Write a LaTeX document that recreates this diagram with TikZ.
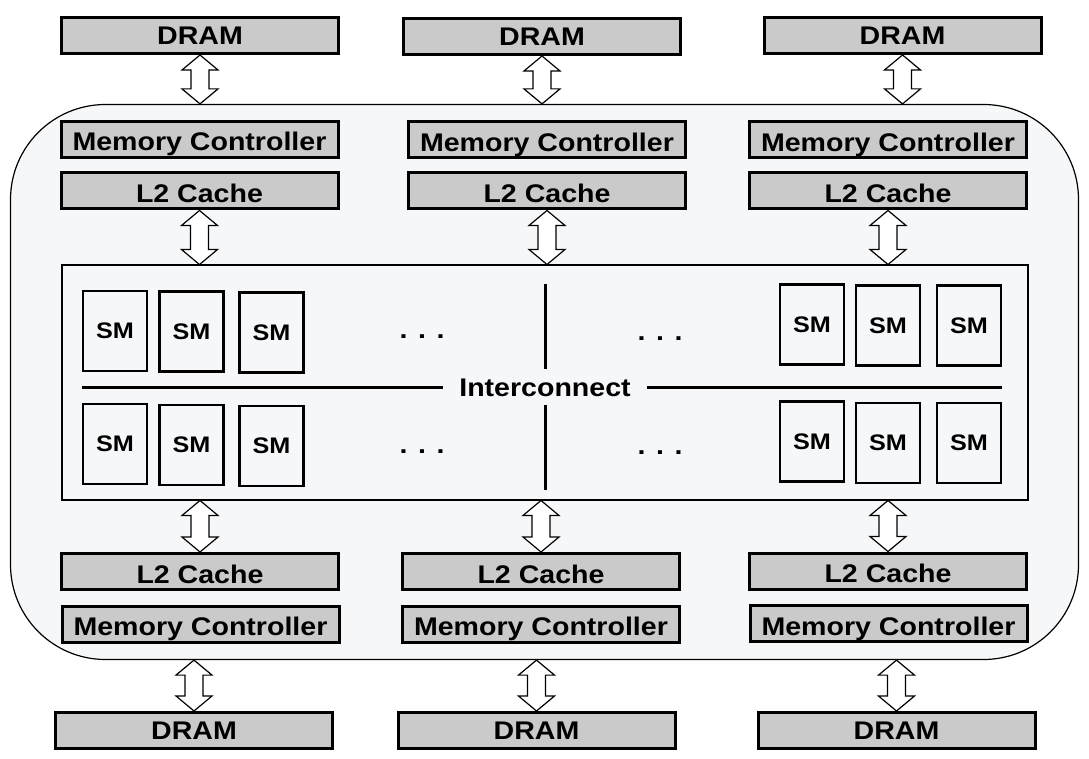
\documentclass[tikz,border=0pt]{standalone}
\usepackage{fontspec}
\usetikzlibrary{calc}
\newfontfamily\boxfont{Liberation Sans}[FakeStretch=1.12]
\definecolor{chipbg}{RGB}{246,247,249}
\definecolor{boxgray}{RGB}{202,202,202}
\tikzset{
    dram/.style={rectangle,draw=black,line width=3pt,fill=boxgray,minimum width=277pt,minimum height=36pt,inner sep=0,
        text height=18pt,text depth=0pt,font=\boxfont\bfseries\fontsize{25.5}{30}\selectfont},
    ctrl/.style={dram,text height=23pt},
    sm/.style={rectangle,draw=black,line width=2.5pt,fill=chipbg,minimum width=64pt,minimum height=80pt,inner sep=0,
        font=\boxfont\bfseries\fontsize{22.5}{26}\selectfont},
    chip/.style={rectangle,draw=black,line width=1.2pt,fill=chipbg,rounded corners=95pt,minimum width=1068pt,minimum height=555pt},
    noc/.style={rectangle,draw=black,line width=2pt,fill=chipbg,minimum width=966pt,minimum height=234pt},
    label/.style={inner xsep=16pt,inner ysep=9pt,text height=18pt,text depth=0pt,font=\boxfont\bfseries\fontsize{25.5}{30}\selectfont},
    dots/.style={anchor=base,inner sep=0,font=\boxfont\bfseries\fontsize{25.5}{30}\selectfont},
    wire/.style={line width=3pt},
    link/.style={draw=black,line width=1.2pt,fill=white,
        to path={let \p1=(\tikztostart), \p2=(\tikztotarget) in
            (\x1,\y1) -- (\x1+18pt,\y1-15pt) -- (\x1+9pt,\y1-15pt) -- (\x1+9pt,\y2+15pt) -- (\x1+18pt,\y2+15pt)
            -- (\x1,\y2) -- (\x1-18pt,\y2+15pt) -- (\x1-9pt,\y2+15pt) -- (\x1-9pt,\y1-15pt) -- (\x1-18pt,\y1-15pt) -- cycle}}
}
\begin{document}
\begin{tikzpicture}[x=1pt,y=-1pt]
    \useasboundingbox (0,0) rectangle (1089,759);
    \node[chip] (chip) at (544.5,382) {};
    \node[noc] (noc) at (544.5,382.5) {};
    % top partitions
    \node[dram] (dt1) at (200,35.5) {DRAM};
    \node[dram] (dt2) at (542,36.5) {DRAM};
    \node[dram] (dt3) at (902.5,35.5) {DRAM};
    \node[ctrl] (mt1) at (199.5,139.5) {Memory Controller};
    \node[ctrl] (mt2) at (547,140) {Memory Controller};
    \node[ctrl] (mt3) at (888,140) {Memory Controller};
    \node[ctrl] (lt1) at (199.5,191) {L2 Cache};
    \node[ctrl] (lt2) at (547,191) {L2 Cache};
    \node[ctrl] (lt3) at (888,191) {L2 Cache};
    % bottom partitions
    \node[ctrl] (lb1) at (200,571.5) {L2 Cache};
    \node[ctrl] (lb2) at (541,571.5) {L2 Cache};
    \node[ctrl] (lb3) at (888,571) {L2 Cache};
    \node[ctrl] (mb1) at (200.5,624) {Memory Controller};
    \node[ctrl] (mb2) at (541,624) {Memory Controller};
    \node[ctrl] (mb3) at (888.5,623.5) {Memory Controller};
    \node[dram] (db1) at (194,730.5) {DRAM};
    \node[dram] (db2) at (536.5,730.5) {DRAM};
    \node[dram] (db3) at (896.5,730.5) {DRAM};
    % SMs
    \foreach \x/\y [count=\i] in {115/331,191.5/331.5,271.5/332.5,812/324.5,888/325.5,969/325.5,
        115/444,191.5/445,271.5/446,812/441.5,888/443,969/443}
        \node[sm] (sm\i) at (\x,\y) {SM};
    \node[dots] (d1) at (422,338) {. . .};
    \node[dots] (d2) at (660,340) {. . .};
    \node[dots] (d3) at (422,453) {. . .};
    \node[dots] (d4) at (660,454) {. . .};
    % interconnect
    \node[label] (icn) at (545,387) {Interconnect};
    \coordinate (hl) at (82,387);
    \coordinate (hr) at (1002,387);
    \coordinate (vt) at (545,284);
    \coordinate (vb) at (545,490);
    \draw[wire] (hl) -- (icn.west) (icn.east) -- (hr);
    \draw[wire] (vt) -- (icn.north) (icn.south) -- (vb);
    % links
    \draw[link] (dt1.south) to (dt1.south |- chip.north);
    \draw[link] (dt2.south) to (dt2.south |- chip.north);
    \draw[link] (dt3.south) to (dt3.south |- chip.north);
    \draw[link] (lt1.south) to (lt1.south |- noc.north);
    \draw[link] (lt2.south) to (lt2.south |- noc.north);
    \draw[link] (lt3.south) to (lt3.south |- noc.north);
    \draw[link] (lb1.north |- noc.south) to (lb1.north);
    \draw[link] (lb2.north |- noc.south) to (lb2.north);
    \draw[link] (lb3.north |- noc.south) to (lb3.north);
    \draw[link] (db1.north |- chip.south) to (db1.north);
    \draw[link] (db2.north |- chip.south) to (db2.north);
    \draw[link] (db3.north |- chip.south) to (db3.north);
\end{tikzpicture}
\end{document}
